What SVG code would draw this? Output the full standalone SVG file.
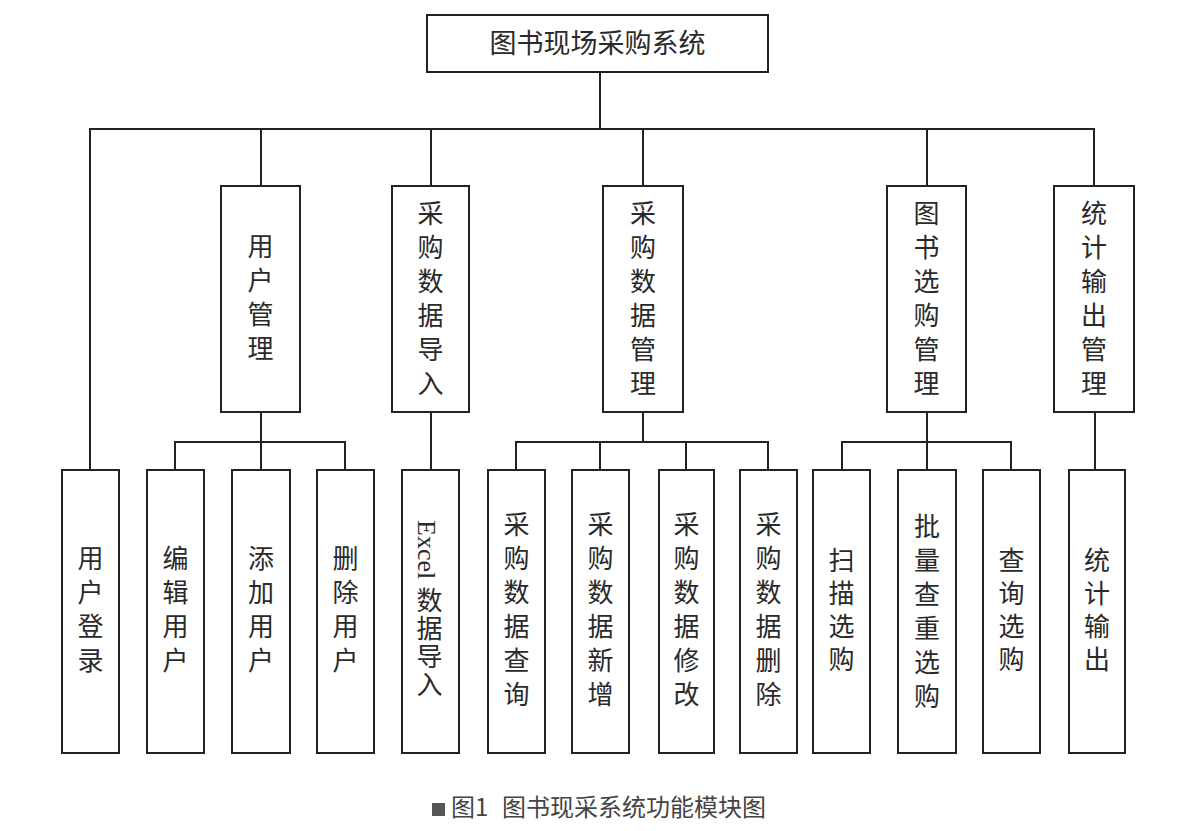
<svg xmlns="http://www.w3.org/2000/svg" width="1184" height="831" viewBox="0 0 1184 831">
<style>
.box{fill:#fff;stroke:#222;stroke-width:2}
.ln{fill:none;stroke:#222;stroke-width:2}
.v{font-family:"Noto Sans CJK SC","Noto Sans",sans-serif;font-size:26px;fill:#2a2a2a;writing-mode:vertical-rl;text-orientation:upright;letter-spacing:8px}
.v7{letter-spacing:7px}
.v2{letter-spacing:2px}
.top{font-family:"Noto Sans CJK SC","Noto Sans",sans-serif;font-size:27px;fill:#2a2a2a;text-anchor:middle}
.cap{font-family:"Noto Sans CJK SC","Noto Sans",sans-serif;font-size:24px;fill:#444}
</style>
<rect width="1184" height="831" fill="#fff"/>
<g id="connectors">
<path class="ln" d="M600,72V129M90,470V129H1094V186M261,129V186M431,129V186M643,129V186M927,129V186"/>
<path class="ln" d="M261,412V442M175,470V442H345V470M261,442V470"/>
<path class="ln" d="M431,412V470"/>
<path class="ln" d="M643,412V442M516,470V442H768V470M600,442V470M686,442V470"/>
<path class="ln" d="M927,412V442M842,470V442H1011V470M927,442V470"/>
<path class="ln" d="M1095,412V470"/>
</g>
<g id="root">
<rect class="box" x="427" y="15" width="341" height="57"/>
<text class="top" x="597.5" y="53">图书现场采购系统</text>
</g>
<g id="yhgl">
<rect class="box" x="221" y="186" width="79" height="226"/>
<text class="v" x="260.5" y="233">用户管理</text>
</g>
<g id="cgsjdr">
<rect class="box" x="392" y="186" width="77" height="226"/>
<text class="v" x="430.5" y="200">采购数据导入</text>
</g>
<g id="cgsjgl">
<rect class="box" x="603" y="186" width="80" height="226"/>
<text class="v" x="643" y="200">采购数据管理</text>
</g>
<g id="tsxggl">
<rect class="box" x="887" y="186" width="79" height="226"/>
<text class="v" x="926.5" y="200">图书选购管理</text>
</g>
<g id="tjscgl">
<rect class="box" x="1054" y="186" width="80" height="226"/>
<text class="v" x="1094" y="200">统计输出管理</text>
</g>
<g id="yhdl">
<rect class="box" x="62" y="470" width="57" height="283"/>
<text class="v" x="90.5" y="545">用户登录</text>
</g>
<g id="bjyh">
<rect class="box" x="147" y="470" width="57" height="283"/>
<text class="v" x="175.5" y="545">编辑用户</text>
</g>
<g id="tjyh">
<rect class="box" x="232" y="470" width="58" height="283"/>
<text class="v" x="261" y="545">添加用户</text>
</g>
<g id="scyh">
<rect class="box" x="317" y="470" width="57" height="283"/>
<text class="v" x="345.5" y="545">删除用户</text>
</g>
<g id="excel">
<rect class="box" x="402" y="470" width="57" height="283"/>
<text transform="translate(418,520) rotate(90)" font-family="Liberation Serif,serif" font-size="26" fill="#2a2a2a">Excel</text>
<text class="v v2" x="429.5" y="587">数据导入</text>
</g>
<g id="cgcx">
<rect class="box" x="488" y="470" width="57" height="283"/>
<text class="v" x="516.5" y="511">采购数据查询</text>
</g>
<g id="cgxz">
<rect class="box" x="572" y="470" width="57" height="283"/>
<text class="v" x="600.5" y="511">采购数据新增</text>
</g>
<g id="cgxg">
<rect class="box" x="659" y="470" width="55" height="283"/>
<text class="v" x="686.5" y="511">采购数据修改</text>
</g>
<g id="cgsc">
<rect class="box" x="740" y="470" width="57" height="283"/>
<text class="v" x="768.5" y="511">采购数据删除</text>
</g>
<g id="smxg">
<rect class="box" x="813" y="470" width="57" height="283"/>
<text class="v v7" x="841.5" y="547">扫描选购</text>
</g>
<g id="plcczxg">
<rect class="box" x="898" y="470" width="58" height="283"/>
<text class="v" x="927" y="513">批量查重选购</text>
</g>
<g id="cxxg">
<rect class="box" x="983" y="470" width="57" height="283"/>
<text class="v v7" x="1011.5" y="547">查询选购</text>
</g>
<g id="tjsc">
<rect class="box" x="1069" y="470" width="56" height="283"/>
<text class="v v7" x="1097" y="547">统计输出</text>
</g>
<g id="caption">
<rect x="432" y="803" width="13" height="13" fill="#555"/>
<text class="cap" x="451" y="816">图1</text>
<text class="cap" x="502" y="816">图书现采系统功能模块图</text>
</g>
</svg>
